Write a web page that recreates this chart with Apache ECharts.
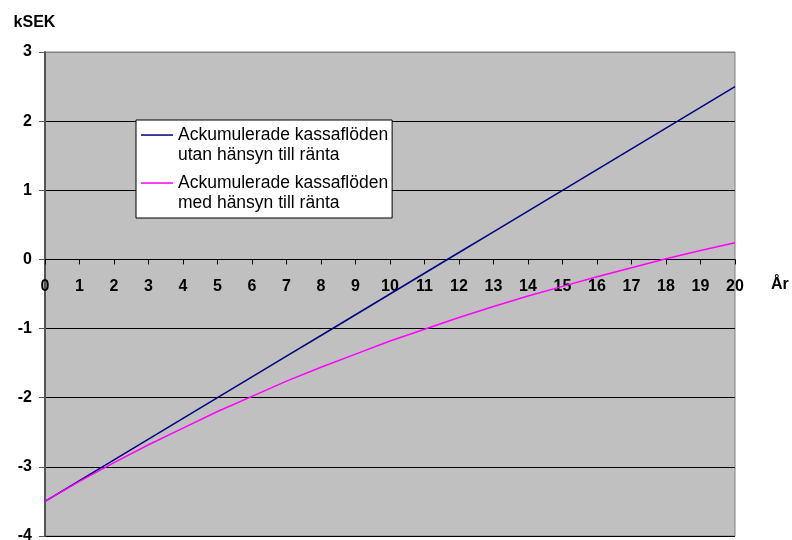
<!DOCTYPE html>
<html>
<head>
<meta charset="utf-8">
<script src="https://cdn.jsdelivr.net/npm/echarts@6/dist/echarts.min.js"></script>
<style>
  html, body { margin: 0; padding: 0; background: #fff; }
  #chart { width: 792px; height: 540px; }
</style>
</head>
<body>
<div id="chart"></div>
<script>
// Years on the horizontal axis
const years = [0, 1, 2, 3, 4, 5, 6, 7, 8, 9, 10, 11, 12, 13, 14, 15, 16, 17, 18, 19, 20];

// Accumulated cash flows, kSEK, without interest
const utanRanta = [-3.5, -3.2, -2.9, -2.6, -2.3, -2.0, -1.7, -1.4, -1.1, -0.8, -0.5,
                   -0.2, 0.1, 0.4, 0.7, 1.0, 1.3, 1.6, 1.9, 2.2, 2.5];

// Accumulated cash flows, kSEK, with interest taken into account
const medRanta = [-3.5, -3.21, -2.94, -2.68, -2.44, -2.2, -1.98, -1.76, -1.56, -1.37, -1.18,
                  -1.01, -0.84, -0.68, -0.53, -0.39, -0.25, -0.12, 0.01, 0.13, 0.24];

const yMin = -4;
const yMax = 3;

const seriesNames = [
  'Ackumulerade kassaflöden\nutan hänsyn till ränta',
  'Ackumulerade kassaflöden\nmed hänsyn till ränta'
];

const font = '"Liberation Sans", Arial, sans-serif';
const W = 792, H = 540;
const gridTop = 52, gridBottom = 4;

// the year axis sits on the zero line; shift it up from the bottom edge by that distance
const plotH = H - gridTop - gridBottom;
const zeroShift = -plotH * (0 - yMin) / (yMax - yMin);

const chart = echarts.init(document.getElementById('chart'), null, { renderer: 'canvas' });

const pairs = (xs, ys) => xs.map((x, i) => [x, ys[i]]);

chart.setOption({
  animation: false,
  backgroundColor: '#ffffff',
  grid: {
    left: 45, right: 57, top: gridTop, bottom: gridBottom,
    outerBoundsMode: 'none',
    containLabel: false,
    show: true,
    backgroundColor: '#c0c0c0',
    borderColor: '#808080',
    borderWidth: 1
  },
  legend: {
    left: 136, top: 120,
    orient: 'vertical',
    backgroundColor: '#ffffff',
    borderColor: '#000000',
    borderWidth: 1,
    borderRadius: 0,
    padding: [5, 4, 5, 5],
    itemGap: 8,
    itemWidth: 32,
    itemHeight: 40,
    // short line aligned with the first text row of each entry
    icon: 'path://M0,0 M0,9.3 L32,9.3 L32,10.8 L0,10.8 Z M0,40',
    textStyle: { fontFamily: font, fontSize: 17.5, lineHeight: 20, color: '#000' },
    data: seriesNames
  },
  xAxis: {
    type: 'value',
    min: 0, max: 20, interval: 1,
    position: 'bottom',
    offset: zeroShift,
    name: 'År',
    nameLocation: 'end',
    nameGap: 36,
    nameMoveOverlap: false,
    nameTextStyle: {
      fontFamily: font, fontSize: 16, fontWeight: 'bold', color: '#000',
      verticalAlign: 'top', padding: [17, 0, 0, 0]
    },
    axisLine: { show: true, onZero: false, lineStyle: { color: '#000', width: 1 } },
    axisTick: { show: true, length: 5, inside: false, lineStyle: { color: '#000' } },
    axisLabel: { margin: 19, fontFamily: font, fontSize: 16, fontWeight: 'bold', color: '#000' },
    splitLine: { show: false }
  },
  yAxis: {
    type: 'value',
    min: yMin, max: yMax, interval: 1,
    name: 'kSEK',
    nameLocation: 'end',
    nameGap: 21,
    nameTextStyle: { fontFamily: font, fontSize: 16, fontWeight: 'bold', color: '#000', padding: [0, 21, 0, 0] },
    axisLine: { show: true, onZero: false, lineStyle: { color: '#555', width: 2 } },
    axisTick: { show: true, length: 6, lineStyle: { color: '#555' } },
    axisLabel: { margin: 13, fontFamily: font, fontSize: 16, fontWeight: 'bold', color: '#000' },
    splitLine: {
      show: true,
      lineStyle: { color: ['#000', '#000', '#000', '#000', '#000', '#000', '#000', '#808080'], width: 1 }
    }
  },
  series: [
    {
      name: seriesNames[0],
      type: 'line',
      data: pairs(years, utanRanta),
      showSymbol: false,
      symbol: 'none',
      color: '#000080',
      lineStyle: { color: '#000080', width: 1.5 },
      z: 3
    },
    {
      name: seriesNames[1],
      type: 'line',
      data: pairs(years, medRanta),
      showSymbol: false,
      symbol: 'none',
      color: '#ff00ff',
      lineStyle: { color: '#ff00ff', width: 1.5 },
      z: 4
    }
  ]
});
</script>
</body>
</html>
